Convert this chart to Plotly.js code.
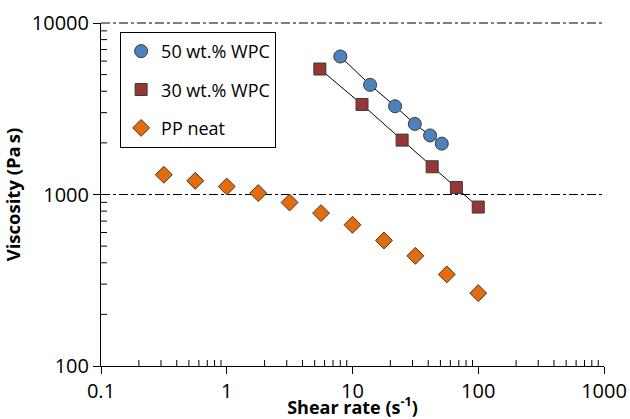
<!DOCTYPE html>
<html>
<head>
<meta charset="utf-8">
<script src="https://cdn.plot.ly/plotly-3.0.1.min.js"></script>
<style>html,body{margin:0;padding:0;background:#fff;}#chart{width:630px;height:419px;}</style>
</head>
<body>
<div id="chart"></div>
<script>
// Data
const wpc50Rate = [8, 13.8, 21.8, 31.3, 41.4, 51.3];
const wpc50Visc = [6380, 4360, 3270, 2580, 2210, 1980];
const wpc30Rate = [5.5, 11.9, 24.8, 43, 67, 100];
const wpc30Visc = [5390, 3350, 2076, 1451, 1099, 845];
const ppRate = [0.316, 0.562, 1, 1.78, 3.16, 5.62, 10, 17.8, 31.6, 56.2, 100];
const ppVisc = [1303, 1202, 1113, 1019, 898, 779, 666, 539, 439, 342, 266];
const xTickVals = [0.1, 1, 10, 100, 1000];
const xTickText = ['0.1', '1', '10', '100', '1000'];
const yTickVals = [100, 1000, 10000];
const yTickText = ['100', '1000', '10000'];

// minor tick positions (2..9 within each decade) for the log axes
function minorTicks(decades) {
  const out = [];
  for (let i = 0; i < decades.length - 1; i++) {
    for (let m = 2; m <= 9; m++) out.push(decades[i] * m);
  }
  return out;
}
const xMin = xTickVals[0], xMax = xTickVals[xTickVals.length - 1];
const yMin = yTickVals[0], yMax = yTickVals[yTickVals.length - 1];
const xRangeLog = [Math.log10(xMin), Math.log10(xMax)];
const yRangeLog = [Math.log10(yMin), Math.log10(yMax)];

const W = 630, H = 419;
const M = {l: 101, r: 26, t: 23, b: 53};
const plotW = W - M.l - M.r, plotH = H - M.t - M.b;
const MINOR_LEN = 5;
// centre of an inside minor tick: half a tick length inside the axis line
const xTickRow = yMin * Math.pow(10, (MINOR_LEN / 2) / plotH * (yRangeLog[1] - yRangeLog[0]));
const yTickCol = xMin * Math.pow(10, (MINOR_LEN / 2) / plotW * (xRangeLog[1] - xRangeLog[0]));
const xMinor = minorTicks(xTickVals);
const yMinor = minorTicks(yTickVals);

const FONT = '"Open Sans", "Liberation Sans", sans-serif';
const outline = {color: '#3a3a3a', width: 1};
const tickMarker = (sym) => ({symbol: sym, size: MINOR_LEN, color: '#000', line: {color: '#000', width: 1}});
const traces = [
  // inside minor ticks of the log axes
  {x: xMinor, y: xMinor.map(() => xTickRow), mode: 'markers', marker: tickMarker('line-ns'),
   cliponaxis: false, showlegend: false, hoverinfo: 'skip'},
  {x: yMinor.map(() => yTickCol), y: yMinor, mode: 'markers', marker: tickMarker('line-ew'),
   cliponaxis: false, showlegend: false, hoverinfo: 'skip'},
  {x: wpc50Rate, y: wpc50Visc, mode: 'lines', line: {color: '#000', width: 1}, showlegend: false, hoverinfo: 'skip'},
  {x: wpc30Rate, y: wpc30Visc, mode: 'lines', line: {color: '#000', width: 1}, showlegend: false, hoverinfo: 'skip'},
  {x: wpc50Rate, y: wpc50Visc, mode: 'markers', name: '50 wt.% WPC', legendgroup: 'a',
   marker: {symbol: 'circle', size: 13, color: '#4F81BD', line: outline}},
  {x: wpc30Rate, y: wpc30Visc, mode: 'markers', name: '30 wt.% WPC', legendgroup: 'b',
   marker: {symbol: 'square', size: 12, color: '#953735', line: outline}},
  {x: ppRate, y: ppVisc, mode: 'markers', name: 'PP neat', legendgroup: 'c',
   marker: {symbol: 'diamond', size: 13, color: '#E46C0A', line: outline}}
];

const majorCommon = {
  type: 'log', tickmode: 'array',
  ticks: 'outside', ticklen: 7, tickcolor: '#000', tickwidth: 1,
  showline: true, linecolor: '#000', linewidth: 1,
  zeroline: false, tickfont: {size: 20, family: FONT}
};

const layout = {
  width: W, height: H,
  margin: M,
  paper_bgcolor: '#fff', plot_bgcolor: '#fff',
  font: {family: FONT, color: '#000', size: 18},
  showlegend: true,
  legend: {
    x: 0.038, y: 0.974, xanchor: 'left', yanchor: 'top',
    bordercolor: '#000', borderwidth: 1, bgcolor: '#fff',
    font: {size: 18, color: '#000', family: FONT},
    traceorder: 'grouped', tracegroupgap: 12
  },
  xaxis: Object.assign({}, majorCommon, {
    range: xRangeLog, tickvals: xTickVals, ticktext: xTickText, showgrid: false,
    title: {text: 'Shear rate (s<sup>-1</sup>)', font: {size: 18, family: FONT, weight: 'bold'}, standoff: 5}
  }),
  yaxis: Object.assign({}, majorCommon, {
    range: yRangeLog, tickvals: yTickVals, ticktext: yTickText,
    showgrid: true, gridcolor: '#000', gridwidth: 1, griddash: 'dashdot',
    title: {text: 'Viscosity (Pa\u2009s)', font: {size: 18.5, family: FONT, weight: 'bold'}, standoff: 6}
  }),
  shapes: [
    {type: 'line', xref: 'paper', yref: 'paper', x0: 0, x1: 1, y0: 1, y1: 1,
     line: {color: '#000', width: 1, dash: 'dashdot'}}
  ]
};

Plotly.newPlot('chart', traces, layout, {staticPlot: true, displayModeBar: false});
</script>
</body>
</html>
